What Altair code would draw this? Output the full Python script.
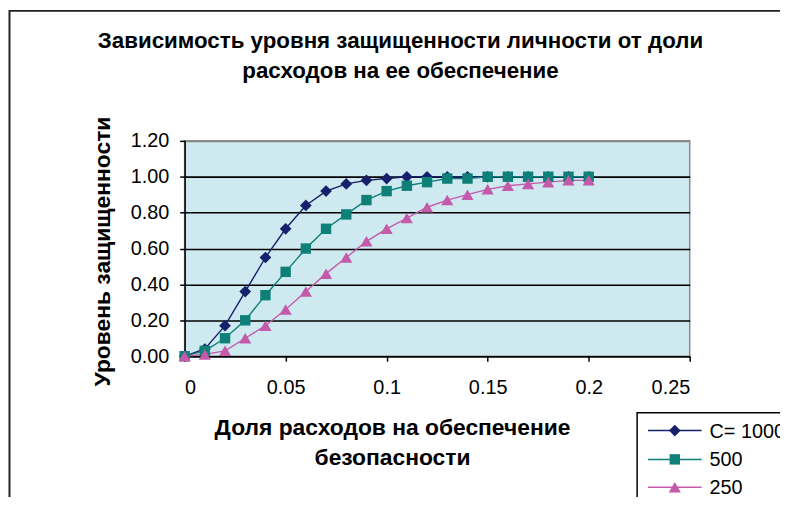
import altair as alt
import pandas as pd

# ---- data ----
x_share = [0.00, 0.01, 0.02, 0.03, 0.04, 0.05, 0.06, 0.07, 0.08, 0.09, 0.10,
           0.11, 0.12, 0.13, 0.14, 0.15, 0.16, 0.17, 0.18, 0.19, 0.20]
level_c1000 = [0.00, 0.04, 0.17, 0.36, 0.55, 0.71, 0.84, 0.92, 0.96, 0.98, 0.99,
               1.00, 1.00, 1.00, 1.00, 1.00, 1.00, 1.00, 1.00, 1.00, 1.00]
level_c500 = [0.00, 0.03, 0.10, 0.20, 0.34, 0.47, 0.60, 0.71, 0.79, 0.87, 0.92,
              0.95, 0.97, 0.99, 0.99, 1.00, 1.00, 1.00, 1.00, 1.00, 1.00]
level_c250 = [0.00, 0.01, 0.03, 0.10, 0.17, 0.26, 0.36, 0.46, 0.55, 0.64, 0.71,
              0.77, 0.83, 0.87, 0.90, 0.93, 0.95, 0.96, 0.97, 0.98, 0.98]
series_names = ["C= 1000", "500", "250"]
series_colors = ["#16206B", "#0E8078", "#C45AAA"]
marker_shapes = ["diamond", "square", "triangle-up"]
y_ticks = [0.0, 0.2, 0.4, 0.6, 0.8, 1.0, 1.2]
x_ticks = [0.0, 0.05, 0.1, 0.15, 0.2, 0.25]

title_lines = ["Зависимость уровня защищенности  личности от доли",
               "расходов на ее обеспечение"]
x_title = ["Доля расходов на обеспечение", "безопасности"]
y_title = "Уровень защищенности"

rows = []
for name, vals in zip(series_names, [level_c1000, level_c500, level_c250]):
    for xv, yv in zip(x_share, vals):
        rows.append({"x": xv, "y": yv, "series": name})
df = pd.DataFrame(rows)

FONT = "Liberation Sans"

xenc = alt.X(
    "x:Q",
    scale=alt.Scale(domain=[0, 0.25], nice=False, zero=False),
    axis=alt.Axis(
        values=x_ticks, format="~g", grid=False,
        labelFont=FONT, labelFontSize=20, labelColor="black", labelPadding=17,
        tickSize=5, tickColor="black", tickWidth=1.5,
        domainColor="black", domainWidth=1.5,
        title=x_title, titleFont=FONT, titleFontSize=23, titleFontWeight="bold",
        titleColor="black", titleLineHeight=30, titleX=209, titleY=79,
        titleAlign="center", titleBaseline="alphabetic",
    ),
)
yenc = alt.Y(
    "y:Q",
    scale=alt.Scale(domain=[0, 1.2], nice=False),
    axis=alt.Axis(
        values=y_ticks, format=".2f", grid=True,
        gridColor={"condition": {"test": "datum.value > 1.19", "value": "#8a8a8a"},
                   "value": "black"},
        gridWidth=1.6,
        labelFont=FONT, labelFontSize=20, labelColor="black", labelPadding=11,
        tickSize=5, tickColor="black", tickWidth=1.5,
        domainColor="black", domainWidth=1.5,
        title=y_title, titleFont=FONT, titleFontSize=23, titleFontWeight="bold",
        titleColor="black", titleX=-83, titleY=111, titleAngle=-90,
        titleAlign="center", titleBaseline="middle",
    ),
)

base = alt.Chart(df)

lines = base.mark_line(strokeWidth=1.4).encode(
    x=xenc, y=yenc,
    color=alt.Color("series:N", scale=alt.Scale(domain=series_names, range=series_colors),
                    legend=None),
)

marker_sizes = [140, 110, 150]
point_layers = []
for name, shp, sz, col in zip(series_names, marker_shapes, marker_sizes, series_colors):
    point_layers.append(
        base.transform_filter(alt.datum.series == name)
        .mark_point(filled=True, shape=shp, size=sz, opacity=1, color=col)
        .encode(x=xenc, y=yenc)
    )

# ---- legend box (drawn by hand, placed below-right of the plot) ----
one = alt.Data(values=[{"k": 1}])
legend_box = alt.Chart(one).mark_rect(fill="white", stroke="black", strokeWidth=1.5).encode(
    x=alt.value(456), x2=alt.value(640), y=alt.value(274), y2=alt.value(420)
)
legend_layers = [legend_box]
row_y = [292, 321, 349]
for name, shp, sz, col, ry in zip(series_names, marker_shapes, marker_sizes, series_colors, row_y):
    row = alt.Chart(alt.Data(values=[{"series": name}]))
    legend_layers.append(
        row.mark_rule(color=col, strokeWidth=1.5).encode(
            x=alt.value(467), x2=alt.value(521), y=alt.value(ry))
    )
    legend_layers.append(
        row.mark_point(filled=True, shape=shp, size=sz, opacity=1, color=col).encode(
            x=alt.value(494), y=alt.value(ry))
    )
    legend_layers.append(
        row.mark_text(align="left", baseline="middle", font=FONT, fontSize=20,
                      color="black").encode(
            x=alt.value(529), y=alt.value(ry + 1), text="series:N")
    )

# outer chart-area frame: only its top and left edges fall inside the canvas
outer_frame = alt.Chart(one).mark_rect(fill="transparent", stroke="#222222",
                                       strokeWidth=2).encode(
    x=alt.value(-176.5), x2=alt.value(700), y=alt.value(-131), y2=alt.value(420)
)

chart = alt.layer(outer_frame, lines, *point_layers, *legend_layers).properties(
    width=509, height=217,
    autosize=alt.AutoSizeParams(type="none"),
    padding={"left": 178, "top": 132, "right": 91, "bottom": 140},
    background="white",
    title=alt.TitleParams(
        text=title_lines, font=FONT, fontSize=22.5, fontWeight="bold", color="black",
        lineHeight=30, anchor="middle", dx=-37, offset=-73,
    ),
).configure_view(
    fill="#CFE9F1", stroke="#8a8a8a", strokeWidth=1.5
)

chart.save("out.html", embed_options={"renderer": "svg", "actions": False})
